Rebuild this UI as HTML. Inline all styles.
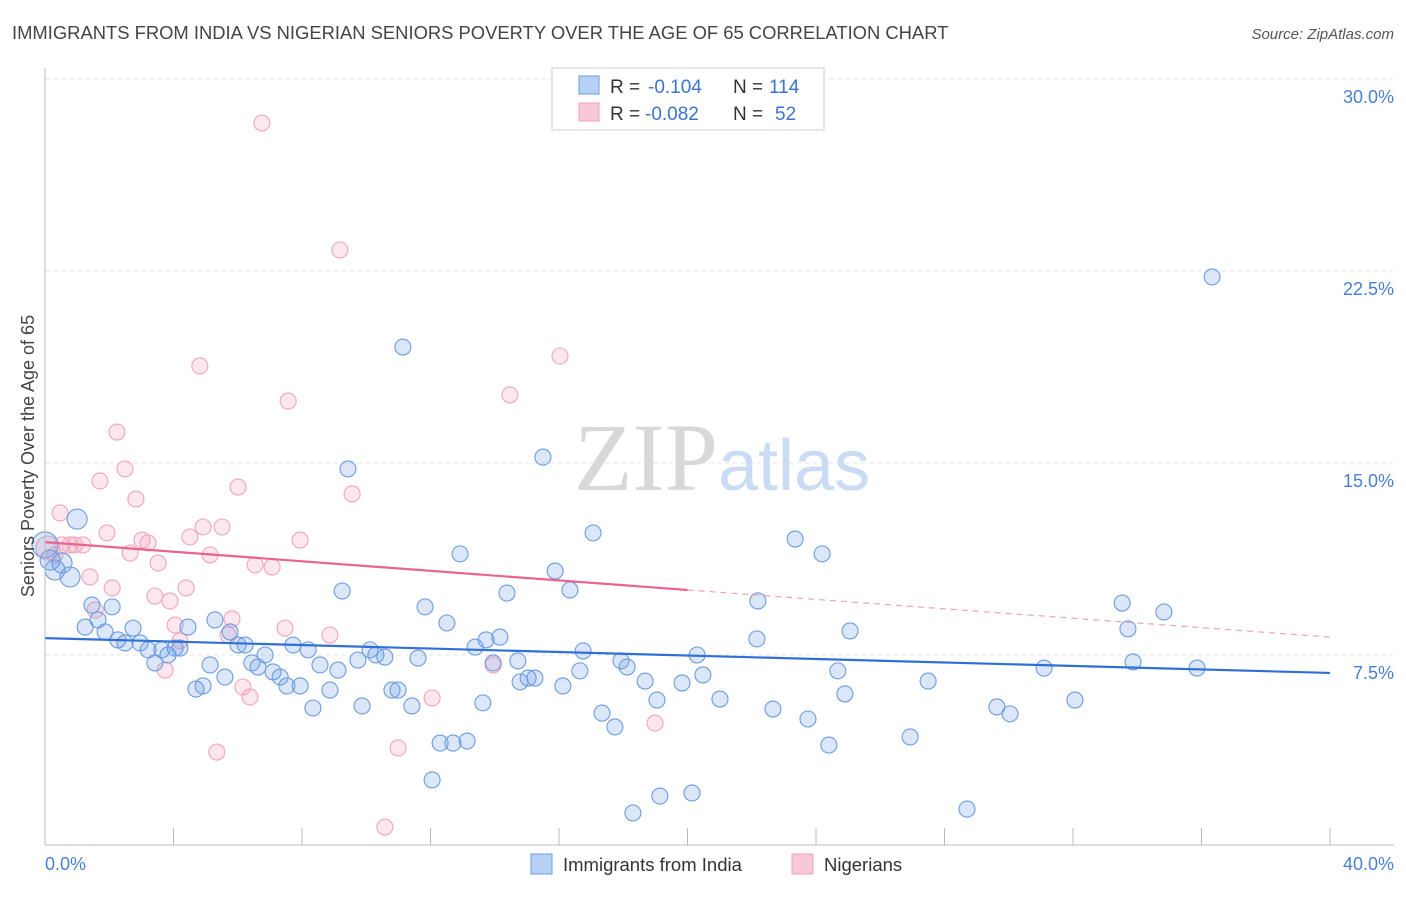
<!DOCTYPE html>
<html><head><meta charset="utf-8"><style>
body{margin:0;background:#fff;font-family:"Liberation Sans",sans-serif;}
</style></head><body>
<svg width="1406" height="892" xmlns="http://www.w3.org/2000/svg" style="font-family:'Liberation Sans',sans-serif">
<text x="12" y="39" font-size="18.4" fill="#444">IMMIGRANTS FROM INDIA VS NIGERIAN SENIORS POVERTY OVER THE AGE OF 65 CORRELATION CHART</text>
<text x="1394" y="39" font-size="15" fill="#555" font-style="italic" text-anchor="end">Source: ZipAtlas.com</text>
<g id="grid"></g>
<text x="718" y="490" font-size="96" fill="#d8d8d8" text-anchor="end" font-family="Liberation Serif,serif">ZIP</text>
<text x="718" y="490" font-size="72" fill="#c9dcf3">atlas</text>
<g id="pts"></g>
<g id="lines"></g>
<line x1="45" y1="68" x2="45" y2="845" stroke="#bbb"/>
<line x1="45" y1="845" x2="1394" y2="845" stroke="#bbb"/>
<text transform="translate(34,456) rotate(-90)" font-size="18" fill="#444" text-anchor="middle">Seniors Poverty Over the Age of 65</text>
<text x="45" y="870" font-size="18" fill="#4a7fd4">0.0%</text>
<text x="1394" y="870" font-size="18" fill="#4a7fd4" text-anchor="end">40.0%</text>
<g>
<rect x="552" y="68" width="272" height="62" fill="#fff" stroke="#ccc"/>
<rect x="579" y="76" width="20" height="18" fill="#b7d1f4" stroke="#6a9be0"/>
<rect x="579" y="103" width="20" height="18" fill="#f9c8d6" stroke="#f0a0b8"/>
<text x="610" y="93" font-size="19" fill="#333">R =</text>
<text x="648" y="93" font-size="19" fill="#3b73d1">-0.104</text>
<text x="733" y="93" font-size="19" fill="#333">N =</text>
<text x="769" y="93" font-size="19" fill="#3b73d1">114</text>
<text x="610" y="120" font-size="19" fill="#333">R =</text>
<text x="645" y="120" font-size="19" fill="#3b73d1">-0.082</text>
<text x="733" y="120" font-size="19" fill="#333">N =</text>
<text x="775" y="120" font-size="19" fill="#3b73d1">52</text>
</g>
<g><rect x="531" y="854" width="21" height="20" fill="#b7d1f4" stroke="#6a9be0"/><text x="563" y="871" font-size="18.5" fill="#333">Immigrants from India</text></g>
<g><rect x="792" y="854" width="21" height="20" fill="#f9c8d6" stroke="#f0a0b8"/><text x="824" y="871" font-size="18.5" fill="#333">Nigerians</text></g>
</svg>
<script>
const yTicks=[7.5,15,22.5,30];
const yTickLabels=["7.5%","15.0%","22.5%","30.0%"];
const xTicks=[0,4,8,12,16,20,24,28,32,36,40];
const indiaX=[0,0.16,0.31,0.53,0.78,1.0,1.25,1.46,1.65,1.87,2.09,2.27,2.49,2.74,2.96,3.21,3.42,3.64,3.83,4.05,4.2,4.45,4.7,4.92,5.14,5.29,5.6,5.76,6.01,6.23,6.44,6.63,6.85,7.1,7.32,7.53,7.72,7.94,8.19,8.34,8.56,8.87,9.12,9.25,9.43,9.74,9.87,10.12,10.3,10.58,10.8,10.99,11.14,11.42,11.61,11.83,12.05,12.3,12.51,12.7,12.92,13.14,13.39,13.63,13.73,13.95,14.16,14.38,14.72,14.79,15.04,15.25,15.5,15.88,16.12,16.34,16.65,16.75,17.06,17.34,17.74,17.93,18.12,18.3,18.68,19.05,19.14,19.83,20.14,20.3,20.48,21.01,22.16,22.19,22.66,23.35,23.75,24.19,24.4,24.68,24.9,25.06,26.93,27.49,28.7,29.63,30.04,31.1,32.06,33.53,33.71,33.87,34.83,35.86,36.33];
const indiaY=[11.8,11.21,10.82,11.09,10.55,12.81,8.59,9.45,8.87,8.4,9.38,8.09,7.97,8.55,7.97,7.7,7.19,7.7,7.5,7.77,7.77,8.59,6.17,6.29,7.11,8.87,6.64,8.4,7.89,7.89,7.19,7.03,7.5,6.84,6.64,6.29,7.89,6.29,7.7,5.43,7.11,6.13,6.91,10.0,14.77,7.3,5.51,7.7,7.5,7.42,6.13,6.13,19.53,5.51,7.38,9.38,2.62,4.06,8.75,4.06,11.45,4.14,7.81,5.63,8.09,7.19,8.2,9.92,7.27,6.45,6.6,6.6,15.23,10.78,6.29,10.04,6.88,7.66,12.27,5.23,4.69,7.27,7.03,1.33,6.48,5.74,1.99,6.41,2.11,7.5,6.72,5.78,8.13,9.61,5.39,12.03,5.0,11.45,3.98,6.88,5.98,8.44,4.3,6.48,1.48,5.47,5.2,6.99,5.74,9.53,8.52,7.23,9.18,6.99,22.27];
const nigX=[0.09,0.31,0.47,0.53,0.78,0.93,1.18,1.4,1.56,1.71,1.93,2.09,2.24,2.49,2.65,2.83,3.02,3.21,3.42,3.52,3.74,3.89,4.05,4.2,4.39,4.51,4.82,4.92,5.14,5.35,5.51,5.82,6.01,6.16,6.38,6.54,6.75,7.07,7.47,7.57,7.94,8.87,9.18,9.56,10.99,10.58,12.05,13.95,14.47,16.03,18.99,5.7];
const nigY=[11.68,11.41,13.05,11.8,11.8,11.8,11.8,10.55,9.26,14.3,12.27,10.12,16.21,14.77,11.48,13.59,11.99,11.88,9.8,11.09,6.91,9.61,8.67,8.05,10.12,12.11,18.79,12.5,11.41,3.71,12.5,8.91,14.06,6.25,5.86,11.02,28.28,10.94,8.55,17.42,11.99,8.28,23.32,13.79,3.87,0.78,5.82,7.11,17.66,19.18,4.84,8.28];
const indiaTrend=[8.16,6.8];
const nigTrend=[11.91,10.04,8.2];
const NS="http://www.w3.org/2000/svg";
const X=v=>45+v/40*1285, Y=v=>847-v/7.5*192;
function mk(t,a,p){const e=document.createElementNS(NS,t);for(const k in a)e.setAttribute(k,a[k]);p.appendChild(e);return e;}
const grid=document.getElementById('grid');
yTicks.forEach((t,i)=>{
 const l=mk('line',{x1:45,x2:1394,y1:Y(t),y2:Y(t),stroke:'#e3e3e3','stroke-dasharray':'4,4'},grid);
 
 
 const tx=mk('text',{x:1394,y:Y(t)+24,'font-size':18,fill:'#4a7fd4','text-anchor':'end'},grid);
 tx.textContent=yTickLabels[i];
 
 
});
xTicks.forEach(t=>{
 const l=mk('line',{x1:X(t),x2:X(t),y1:828,y2:845,stroke:'#bbb'},grid);
 
 
});
const pts=document.getElementById('pts');
nigX.forEach((x,i)=>{
 const c=mk('circle',{cx:X(x),cy:Y(nigY[i]),r:i==0?12:8,fill:'rgba(244,160,188,0.25)',stroke:'#f0a4bc','stroke-width':1.1},pts);
 
 
});
indiaX.forEach((x,i)=>{
 const c=mk('circle',{cx:X(x),cy:Y(indiaY[i]),r:(i==0?13:(i<6?10:8)),fill:'rgba(110,160,232,0.25)',stroke:'#6a9be0','stroke-width':1.1},pts);
 
 
});
const lines=document.getElementById('lines');
let l=mk('line',{x1:X(0),y1:Y(indiaTrend[0]),x2:X(40),y2:Y(indiaTrend[1]),stroke:'#2f6fd6','stroke-width':2.2},lines);


l=mk('line',{x1:X(0),y1:Y(nigTrend[0]),x2:X(20),y2:Y(nigTrend[1]),stroke:'#e8648e','stroke-width':2.2},lines);


l=mk('line',{x1:X(20),y1:Y(nigTrend[1]),x2:X(40),y2:Y(nigTrend[2]),stroke:'#f0a0b8','stroke-width':1.2,'stroke-dasharray':'6,5'},lines);


</script>
</body></html>
